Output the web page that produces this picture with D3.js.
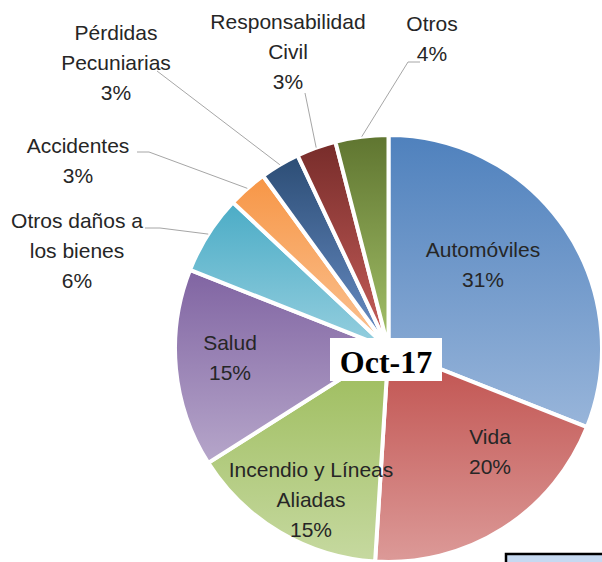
<!DOCTYPE html>
<html>
<head>
<meta charset="utf-8">
<script src="https://cdn.jsdelivr.net/npm/d3@7"></script>
<style>
  html, body { margin: 0; padding: 0; background: #fff; }
  svg { display: block; }
  .lbl { font-family: "Liberation Sans", Arial, sans-serif; font-size: 21px; fill: #262626; }
</style>
</head>
<body>
<div id="chart"></div>
<script>
// Data
const categories = [
    "Automóviles", "Vida", "Incendio y Líneas\nAliadas", "Salud",
    "Otros daños a\nlos bienes", "Accidentes", "Pérdidas\nPecuniarias",
    "Responsabilidad\nCivil", "Otros"
];
const values = [31, 20, 15, 15, 6, 3, 3, 3, 4];
const period = "Oct-17";

// Colors (top -> bottom of each slice)
const topColors = ["#4F81BD", "#C0504D", "#9BBB59", "#8064A2", "#4BACC6", "#F79646", "#2C4D75", "#772C2A", "#5F7530"];
const bottomColors = ["#98B5DA", "#DC9A98", "#C6D9A0", "#B6A6CA", "#96CFDF", "#FAC394", "#6A8FC7", "#C9605C", "#A5C26A"];

// Layout
const W = 602, H = 562;
const CX = 388.5, CY = 348.5, R = 213.5;
const LINE_H = 30;
// label anchors (center x, first line y)
const labelPos = [[483, 250], [490, 437], [311, 470], [230, 343], [77, 221], [78, 146], [116, 33], [288, 22], [432, 24]];
// leader line start points near the label (null = label inside slice)
const leaderStart = [null, null, null, null,
    [[145, 228], [160, 228]], [[137, 152], [149, 152]], [[157, 71]], [[305, 93]], [[420, 62], [408, 62]]];

const svg = d3.select("#chart").append("svg")
    .attr("width", W)
    .attr("height", H);

const defs = svg.append("defs");
topColors.forEach((c, i) => {
    const g = defs.append("linearGradient")
        .attr("id", `grad-${i}`)
        .attr("x1", 0).attr("y1", 0).attr("x2", 0).attr("y2", 1);
    g.append("stop").attr("offset", "0%").attr("stop-color", c);
    g.append("stop").attr("offset", "100%").attr("stop-color", bottomColors[i]);
});

const pie = d3.pie().sort(null).value(d => d);
const arcs = pie(values);

const arc = d3.arc().innerRadius(0).outerRadius(R);
const edgeArc = d3.arc().innerRadius(R).outerRadius(R);

const g = svg.append("g").attr("transform", `translate(${CX},${CY})`);

g.selectAll("path.slice")
    .data(arcs)
    .join("path")
    .attr("class", "slice")
    .attr("d", arc)
    .attr("fill", (d, i) => `url(#grad-${i})`)
    .attr("stroke", "#fff")
    .attr("stroke-width", 4)
    .attr("stroke-linejoin", "round");

// Leader lines
const line = d3.line();
arcs.forEach((d, i) => {
    if (!leaderStart[i]) return;
    const end = edgeArc.centroid(d);
    const pts = leaderStart[i].map(p => [p[0] - CX, p[1] - CY]);
    pts.push(end);
    g.append("path")
        .attr("d", line(pts))
        .attr("fill", "none")
        .attr("stroke", "#A6A6A6")
        .attr("stroke-width", 1);
});

// Labels
arcs.forEach((d, i) => {
    const lines = categories[i].split("\n").concat([`${values[i]}%`]);
    const t = svg.append("text")
        .attr("class", "lbl")
        .attr("text-anchor", "middle");
    lines.forEach((s, k) => {
        t.append("tspan")
            .attr("x", labelPos[i][0])
            .attr("y", labelPos[i][1] + k * LINE_H)
            .attr("dy", "0.35em")
            .text(s);
    });
});

// Center title
svg.append("rect")
    .attr("x", 330).attr("y", 338)
    .attr("width", 112).attr("height", 43)
    .attr("fill", "#fff");
svg.append("text")
    .attr("x", 386).attr("y", 373)
    .attr("text-anchor", "middle")
    .style("font-family", "'Liberation Serif', 'Times New Roman', serif")
    .style("font-weight", "bold")
    .style("font-size", "32px")
    .attr("fill", "#000")
    .text(period);

// Partial box in bottom-right corner
svg.append("rect")
    .attr("x", 506).attr("y", 554)
    .attr("width", 120).attr("height", 40)
    .attr("fill", "#C6D9F1")
    .attr("stroke", "#000")
    .attr("stroke-width", 2.5);
</script>
</body>
</html>
